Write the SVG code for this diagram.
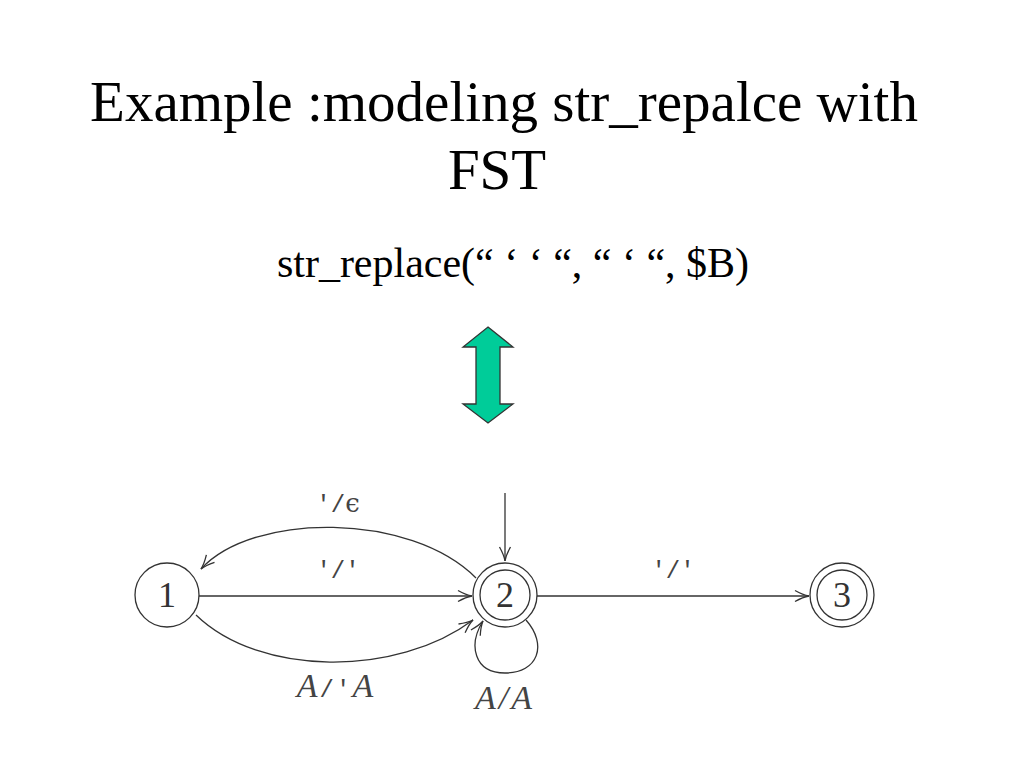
<svg xmlns="http://www.w3.org/2000/svg" width="1024" height="768" viewBox="0 0 1024 768">
<defs>
<style>
.title{font-family:"Liberation Serif","Times New Roman",serif;font-size:57px;fill:#000;text-anchor:middle}
.sub{font-family:"Liberation Serif","Times New Roman",serif;font-size:42px;fill:#000;text-anchor:middle}
.node circle{fill:none;stroke:#333;stroke-width:1.3}
.node text{font-family:"Liberation Serif","DejaVu Serif",serif;font-size:36px;fill:#333;text-anchor:middle}
.edge{fill:none;stroke:#333;stroke-width:1.3}
.lbl{font-family:"Liberation Mono","DejaVu Sans Mono",monospace;font-size:24px;fill:#444;text-anchor:middle}
.it{font-family:"Liberation Serif","DejaVu Serif",serif;font-style:italic;font-size:34px}
.eps{font-family:"DejaVu Serif","Liberation Serif",serif;font-size:26px}
</style>
<marker id="arr" markerUnits="userSpaceOnUse" markerWidth="18" markerHeight="14" refX="15" refY="7" orient="auto">
<path d="M1,1.5 Q9,6 15,7 Q9,8 1,12.5" fill="none" stroke="#333" stroke-width="1.3"/>
</marker>
</defs>
<rect width="1024" height="768" fill="#fff"/>
<text class="title" x="504" y="121">Example :modeling str_repalce with</text>
<text class="title" x="497" y="189">FST</text>
<text class="sub" x="513" y="277">str_replace(“ ‘ ‘ “, “ ‘ “, $B)</text>
<polygon id="biarrow" points="488,327 513,347 500,347 500,404 513,404 488,423 463,404 476,404 476,347 463,347" fill="#00CC99" stroke="#333" stroke-width="1.3"/>
<g id="connectors">
<path class="edge" d="M199,596 L472,596" marker-end="url(#arr)"/>
<path class="edge" d="M537,596 L809,596" marker-end="url(#arr)"/>
<path class="edge" d="M505,493 L505,561" marker-end="url(#arr)"/>
<path class="edge" d="M476,578 C410,512 253,512 201,569" marker-end="url(#arr)"/>
<path class="edge" d="M196,615 C260,677 397,677 473,620" marker-end="url(#arr)"/>
<path class="edge" d="M526,620 C548,645 538,673 505,673 C474,673 468,645 483,621" marker-end="url(#arr)"/>
<text class="lbl" x="338" y="512">'/<tspan class="eps">ϵ</tspan></text>
<text class="lbl" x="338" y="578">'/'</text>
<text class="lbl" x="673" y="578">'/'</text>
<text class="lbl" x="336" y="697" letter-spacing="2"><tspan class="it">A</tspan>/'<tspan class="it">A</tspan></text>
<text class="lbl" x="505" y="709" letter-spacing="3"><tspan class="it">A</tspan><tspan class="it">/</tspan><tspan class="it">A</tspan></text>
</g>
<g id="node1" class="node"><circle cx="167" cy="595" r="32"/><text x="167" y="607">1</text></g>
<g id="node2" class="node"><circle cx="505" cy="595" r="32"/><circle cx="505" cy="595" r="25"/><text x="505" y="607">2</text></g>
<g id="node3" class="node"><circle cx="842" cy="595" r="32"/><circle cx="842" cy="595" r="25"/><text x="842" y="607">3</text></g>
</svg>
